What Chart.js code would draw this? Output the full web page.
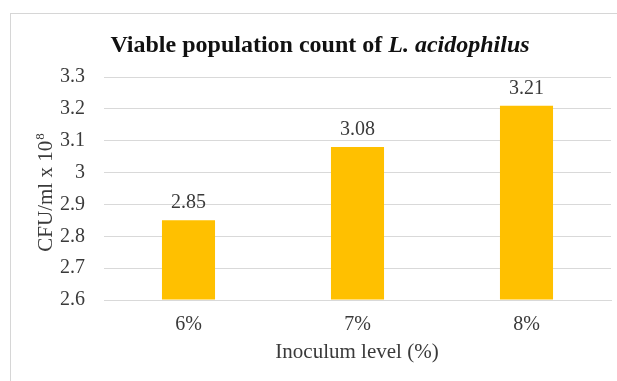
<!DOCTYPE html>
<html>
<head>
<meta charset="utf-8">
<script src="https://cdn.jsdelivr.net/npm/chart.js@4/dist/chart.umd.min.js"></script>
<style>
  html, body { margin: 0; padding: 0; background: #ffffff; }
  #wrap { width: 617px; height: 381px; position: relative; }
</style>
</head>
<body>
<div id="wrap"><canvas id="c" width="617" height="381"></canvas></div>
<script>
// Inoculum levels and the viable counts measured at each (CFU/ml x 10^8)
const categories = ['6%', '7%', '8%'];
const counts = [2.85, 3.08, 3.21];
const yTicks = [2.6, 2.7, 2.8, 2.9, 3.0, 3.1, 3.2, 3.3];

const SERIF = '"Liberation Serif", "Times New Roman", serif';
const TEXT = '#3a3a3a';

// Frame, title, axis titles and value labels
const decorations = {
  id: 'decorations',
  beforeDraw(chart) {
    const ctx = chart.ctx;
    ctx.save();
    ctx.fillStyle = '#ffffff';
    ctx.fillRect(0, 0, chart.width, chart.height);
    ctx.strokeStyle = '#d6d6d6';
    ctx.lineWidth = 1;
    ctx.strokeRect(10.5, 13.5, chart.width + 10, chart.height + 10);
    ctx.restore();
  },
  afterDraw(chart) {
    const ctx = chart.ctx;
    ctx.save();
    ctx.fillStyle = '#111111';
    ctx.textBaseline = 'alphabetic';
    // Title: regular part bold, species name bold italic
    const t1 = 'Viable population count of ';
    const t2 = 'L. acidophilus';
    ctx.font = 'bold 24px ' + SERIF;
    const w1 = ctx.measureText(t1).width;
    ctx.font = 'italic bold 24px ' + SERIF;
    const w2 = ctx.measureText(t2).width;
    const x = 320 - (w1 + w2) / 2;
    ctx.font = 'bold 24px ' + SERIF;
    ctx.fillText(t1, x, 52);
    ctx.font = 'italic bold 24px ' + SERIF;
    ctx.fillText(t2, x + w1, 52);

    // X axis title
    ctx.fillStyle = TEXT;
    ctx.font = '21px ' + SERIF;
    ctx.textAlign = 'center';
    ctx.textBaseline = 'middle';
    ctx.fillText('Inoculum level (%)', 357, 352);

    // Y axis title, rotated, with superscript exponent
    ctx.textAlign = 'left';
    ctx.textBaseline = 'alphabetic';
    ctx.translate(52, 193);
    ctx.rotate(-Math.PI / 2);
    ctx.font = '21px ' + SERIF;
    const a = 'CFU/ml x 10';
    const wa = ctx.measureText(a).width;
    ctx.font = '13px ' + SERIF;
    const wb = ctx.measureText('8').width;
    const start = -(wa + wb) / 2;
    ctx.font = '21px ' + SERIF;
    ctx.fillText(a, start, 0);
    ctx.font = '13px ' + SERIF;
    ctx.fillText('8', start + wa + 1, -8);
    ctx.restore();

    // Value labels above bars
    ctx.save();
    ctx.fillStyle = TEXT;
    ctx.font = '20px ' + SERIF;
    ctx.textAlign = 'center';
    ctx.textBaseline = 'alphabetic';
    const meta = chart.getDatasetMeta(0);
    meta.data.forEach((bar, i) => {
      ctx.fillText(counts[i].toFixed(2), bar.x, bar.y - 12);
    });
    ctx.restore();
  }
};

new Chart(document.getElementById('c'), {
  type: 'bar',
  data: {
    labels: categories,
    datasets: [{
      data: counts,
      backgroundColor: '#FFC000',
      borderWidth: 0,
      categoryPercentage: 1.0,
      barPercentage: 0.314,
      base: 2.6
    }]
  },
  options: {
    responsive: false,
    animation: false,
    devicePixelRatio: 1,
    layout: { padding: { left: 0, right: 6, top: 77, bottom: 0 } },
    plugins: {
      legend: { display: false },
      tooltip: { enabled: false },
      title: { display: false }
    },
    scales: {
      x: {
        afterFit(scale) { scale.height = 81; },
        grid: { display: false, drawTicks: false },
        border: { display: true, color: '#d9d9d9', width: 1 },
        ticks: { color: TEXT, font: { family: SERIF, size: 20 }, padding: 13 }
      },
      y: {
        min: 2.6,
        max: 3.3,
        afterFit(scale) { scale.width = 104; },
        afterBuildTicks(scale) {
          scale.ticks = yTicks.map(v => ({ value: v }));
        },
        grid: { color: '#d9d9d9', drawTicks: false },
        border: { display: false },
        ticks: {
          color: TEXT,
          font: { family: SERIF, size: 20 },
          padding: 19,
          callback: v => (Math.round(v * 10) / 10).toString()
        }
      }
    }
  },
  plugins: [decorations]
});
</script>
</body>
</html>
